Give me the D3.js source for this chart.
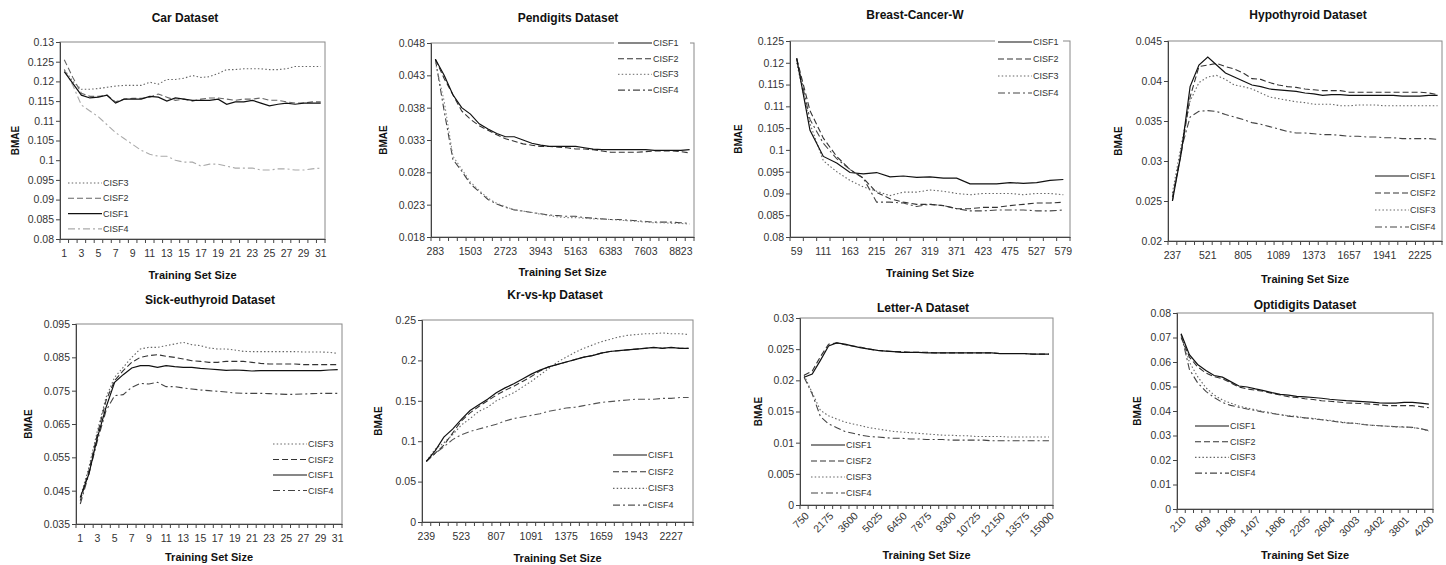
<!DOCTYPE html>
<html>
<head>
<meta charset="utf-8">
<script src="https://cdn.jsdelivr.net/npm/d3@7"></script>
<style>
  body { margin: 0; background: #fff; }
  svg { display: block; font-family: "Liberation Sans", Arial, sans-serif; }
</style>
</head>
<body>
<svg id="chart" width="1446" height="565"></svg>
<script>
// ---- data ----
const carX = d3.range(1, 32);
const carCISF1 = [0.1225,0.1195,0.1165,0.1158,0.116,0.1165,0.1145,0.1155,0.1155,0.1155,0.1162,0.116,0.115,0.1158,0.1155,0.1152,0.1152,0.1152,0.1155,0.1142,0.1148,0.1148,0.1152,0.1145,0.1138,0.1142,0.1145,0.1142,0.1145,0.1145,0.1145];
const carCISF2 = [0.1255,0.121,0.117,0.1162,0.1162,0.1165,0.1148,0.1155,0.1157,0.1157,0.116,0.1168,0.116,0.1152,0.1155,0.115,0.1155,0.1158,0.1158,0.1155,0.1152,0.1155,0.1155,0.1158,0.1152,0.1152,0.1148,0.1145,0.1145,0.1148,0.1148];
const carCISF3 = [0.123,0.120,0.118,0.118,0.1182,0.1185,0.1188,0.119,0.119,0.119,0.1198,0.1193,0.1205,0.1205,0.1208,0.1215,0.121,0.1212,0.122,0.123,0.123,0.1232,0.1232,0.1232,0.123,0.123,0.1232,0.1238,0.1238,0.1238,0.1238];
const carCISF4 = [0.123,0.119,0.114,0.1125,0.111,0.109,0.107,0.1055,0.104,0.1025,0.1015,0.101,0.101,0.100,0.0995,0.0995,0.0985,0.099,0.099,0.0985,0.098,0.098,0.098,0.0975,0.0975,0.0978,0.0978,0.0975,0.0975,0.0978,0.098];

const penX = d3.range(283, 9129, 305);
const penCISF1 = [0.0455,0.043,0.040,0.038,0.037,0.0355,0.0347,0.034,0.0335,0.0335,0.033,0.0325,0.0322,0.032,0.032,0.032,0.032,0.0318,0.0316,0.0315,0.0315,0.0315,0.0315,0.0315,0.0315,0.0314,0.0314,0.0314,0.0314,0.0315];
const penCISF2 = [0.0455,0.0425,0.040,0.0375,0.0362,0.0352,0.0345,0.0338,0.0332,0.0328,0.0324,0.0322,0.032,0.032,0.0319,0.0318,0.0316,0.0316,0.0315,0.0313,0.0311,0.0311,0.0311,0.0311,0.0312,0.0313,0.0313,0.0313,0.0312,0.031];
const penCISF3 = [0.045,0.039,0.0305,0.0285,0.0265,0.0252,0.024,0.0232,0.0227,0.0222,0.022,0.0218,0.0215,0.0213,0.0211,0.021,0.021,0.0209,0.0208,0.0208,0.0207,0.0206,0.0205,0.0204,0.0203,0.0202,0.0202,0.0201,0.0201,0.020];
const penCISF4 = [0.0455,0.0375,0.030,0.0282,0.0262,0.025,0.0238,0.0231,0.0226,0.0222,0.022,0.0218,0.0216,0.0214,0.0213,0.0212,0.0212,0.021,0.0209,0.0208,0.0207,0.0207,0.0206,0.0205,0.0204,0.0203,0.0203,0.0203,0.0202,0.0201];

const bcX = d3.range(59, 580, 26);
const bcCISF1 = [0.121,0.1045,0.0985,0.097,0.0948,0.0945,0.0948,0.0938,0.094,0.0937,0.0938,0.0935,0.0935,0.0922,0.0922,0.0922,0.0925,0.0923,0.0925,0.093,0.0932];
const bcCISF2 = [0.121,0.109,0.1027,0.0985,0.0955,0.0935,0.0902,0.0888,0.088,0.0875,0.0875,0.0872,0.0865,0.0865,0.0868,0.0868,0.0872,0.0875,0.0878,0.0878,0.088];
const bcCISF3 = [0.120,0.106,0.0975,0.095,0.093,0.0915,0.0905,0.0895,0.0903,0.0903,0.0908,0.0905,0.090,0.0897,0.090,0.090,0.090,0.0897,0.090,0.090,0.0897];
const bcCISF4 = [0.121,0.107,0.1015,0.098,0.0955,0.0935,0.088,0.088,0.0878,0.087,0.0875,0.0872,0.0865,0.086,0.086,0.0862,0.0862,0.0862,0.086,0.086,0.0862];

const hypX = d3.range(237, 2368, 71);
const hypCISF1 = [0.025,0.031,0.0393,0.042,0.043,0.042,0.041,0.0405,0.040,0.0395,0.0393,0.039,0.0389,0.0388,0.0387,0.0385,0.0384,0.0382,0.0383,0.0383,0.0382,0.0382,0.0382,0.0382,0.0382,0.0382,0.0381,0.0381,0.0381,0.0382,0.0382];
const hypCISF2 = [0.0255,0.031,0.038,0.0418,0.042,0.0422,0.0418,0.0415,0.041,0.0403,0.0402,0.0398,0.0395,0.0393,0.0392,0.039,0.0389,0.0388,0.0388,0.0388,0.0386,0.0386,0.0386,0.0386,0.0386,0.0386,0.0386,0.0386,0.0386,0.0385,0.0383];
const hypCISF3 = [0.026,0.032,0.0375,0.0398,0.0405,0.0407,0.0402,0.0395,0.0393,0.039,0.0385,0.038,0.0378,0.0376,0.0374,0.0373,0.0371,0.0371,0.0371,0.0369,0.0369,0.037,0.037,0.037,0.0369,0.0369,0.0369,0.0369,0.0369,0.0369,0.0369];
const hypCISF4 = [0.025,0.0315,0.0355,0.0362,0.0363,0.0362,0.0358,0.0355,0.0352,0.0348,0.0346,0.0343,0.034,0.0337,0.0335,0.0335,0.0334,0.0333,0.0333,0.0332,0.0331,0.0331,0.033,0.033,0.0329,0.0329,0.0328,0.0328,0.0328,0.0328,0.0327];

const sickX = d3.range(1, 32);
const sickCISF1 = [0.043,0.050,0.061,0.070,0.0775,0.0798,0.0818,0.0825,0.0825,0.082,0.0825,0.0822,0.082,0.082,0.0817,0.0815,0.0813,0.0811,0.0812,0.0811,0.0809,0.081,0.081,0.081,0.081,0.081,0.081,0.081,0.081,0.0812,0.0813];
const sickCISF2 = [0.042,0.051,0.062,0.072,0.078,0.081,0.0835,0.085,0.0855,0.0858,0.0853,0.085,0.0845,0.084,0.0838,0.0835,0.0835,0.0838,0.0838,0.0838,0.0835,0.0832,0.083,0.083,0.083,0.083,0.0828,0.0828,0.0828,0.0828,0.0828];
const sickCISF3 = [0.043,0.052,0.063,0.073,0.079,0.082,0.085,0.0875,0.088,0.088,0.0885,0.089,0.0895,0.0888,0.0885,0.0878,0.0875,0.0875,0.0872,0.0868,0.0867,0.0867,0.0867,0.0867,0.0867,0.0867,0.0866,0.0866,0.0866,0.0865,0.0862];
const sickCISF4 = [0.041,0.050,0.060,0.069,0.0735,0.0738,0.076,0.0772,0.077,0.0775,0.0762,0.0762,0.0758,0.0755,0.0752,0.075,0.0748,0.0746,0.0743,0.0742,0.0742,0.0742,0.0741,0.074,0.0739,0.0739,0.074,0.0741,0.0742,0.0742,0.0742];

const krX = d3.range(239, 2370, 71);
const krCISF1 = [0.075,0.088,0.105,0.115,0.127,0.138,0.145,0.152,0.160,0.166,0.171,0.177,0.183,0.188,0.192,0.195,0.198,0.201,0.204,0.206,0.209,0.211,0.212,0.213,0.214,0.215,0.216,0.215,0.216,0.215,0.215];
const krCISF2 = [0.075,0.085,0.095,0.110,0.125,0.135,0.143,0.150,0.157,0.163,0.168,0.174,0.180,0.187,0.192,0.195,0.198,0.201,0.204,0.206,0.209,0.211,0.212,0.213,0.214,0.215,0.216,0.215,0.216,0.215,0.215];
const krCISF3 = [0.075,0.090,0.098,0.108,0.120,0.128,0.137,0.142,0.150,0.155,0.160,0.167,0.174,0.182,0.190,0.198,0.204,0.210,0.215,0.219,0.223,0.226,0.229,0.231,0.232,0.233,0.233,0.234,0.233,0.233,0.232];
const krCISF4 = [0.075,0.085,0.093,0.102,0.108,0.112,0.115,0.118,0.121,0.125,0.128,0.130,0.132,0.134,0.137,0.139,0.141,0.142,0.144,0.146,0.148,0.149,0.150,0.151,0.152,0.152,0.152,0.153,0.153,0.154,0.154];

const letX = d3.range(750, 15001, 475);
const letCISF1 = [0.0205,0.021,0.0232,0.0255,0.026,0.0258,0.0255,0.0252,0.025,0.0248,0.0247,0.0246,0.0245,0.0245,0.0245,0.0244,0.0244,0.0244,0.0244,0.0244,0.0244,0.0244,0.0244,0.0244,0.0243,0.0243,0.0243,0.0243,0.0242,0.0242,0.0242];
const letCISF2 = [0.0208,0.0215,0.0238,0.0258,0.026,0.0257,0.0255,0.0253,0.025,0.0248,0.0247,0.0246,0.0246,0.0245,0.0245,0.0245,0.0244,0.0244,0.0244,0.0244,0.0244,0.0244,0.0244,0.0244,0.0243,0.0243,0.0243,0.0243,0.0242,0.0242,0.0242];
const letCISF3 = [0.0208,0.018,0.0152,0.0143,0.0138,0.0133,0.013,0.0127,0.0124,0.0122,0.012,0.0118,0.0117,0.0116,0.0115,0.0114,0.0113,0.0112,0.0112,0.0111,0.0111,0.011,0.011,0.011,0.011,0.0109,0.0109,0.0109,0.0109,0.0109,0.0109];
const letCISF4 = [0.0205,0.0178,0.0142,0.013,0.0124,0.0118,0.0115,0.0112,0.011,0.0109,0.0108,0.0107,0.0107,0.0106,0.0106,0.0105,0.0105,0.0105,0.0104,0.0104,0.0104,0.0104,0.0104,0.0103,0.0103,0.0103,0.0103,0.0103,0.0103,0.0103,0.0103];

const optX = d3.range(210, 4201, 133);
const optCISF1 = [0.0715,0.063,0.059,0.0565,0.0545,0.0538,0.052,0.0502,0.0498,0.049,0.0483,0.0475,0.0468,0.0465,0.046,0.0458,0.0455,0.0452,0.0448,0.0445,0.0442,0.044,0.0438,0.0436,0.0433,0.0432,0.0432,0.0435,0.0435,0.0432,0.0428];
const optCISF2 = [0.070,0.062,0.058,0.0555,0.054,0.0532,0.0515,0.0498,0.049,0.0485,0.048,0.0472,0.0465,0.0458,0.0455,0.045,0.0447,0.0442,0.044,0.0437,0.0433,0.0432,0.043,0.0428,0.0425,0.0422,0.0422,0.0422,0.0422,0.0418,0.0413];
const optCISF3 = [0.071,0.060,0.054,0.0495,0.0465,0.0445,0.0432,0.042,0.0412,0.0405,0.0398,0.0392,0.0385,0.0381,0.0378,0.0372,0.037,0.0365,0.0362,0.0357,0.0352,0.035,0.0346,0.0342,0.034,0.0338,0.0335,0.0334,0.0332,0.0328,0.0318];
const optCISF4 = [0.0715,0.057,0.0515,0.048,0.0455,0.0435,0.0423,0.0415,0.0408,0.0402,0.0395,0.039,0.0385,0.0379,0.0375,0.0372,0.0368,0.0364,0.036,0.0355,0.0351,0.035,0.0345,0.0342,0.034,0.0338,0.0336,0.0335,0.0333,0.0328,0.032];

// ---- layout ----
const svg = d3.select("#chart");

const baseStyle = {
    CISF1: { color: "#111", dash: null, width: 1.2 },
    CISF2: { color: "#333", dash: "6,3", width: 1.1 },
    CISF3: { color: "#666", dash: "1.5,2.2", width: 1.1 },
    CISF4: { color: "#444", dash: "7,3,2,3", width: 1.1 }
};

const panels = [
    { title: "Car Dataset", cats: carX, data: [carCISF1, carCISF2, carCISF3, carCISF4],
      y: [0.08, 0.13], step: 0.005, every: 2, box: [60, 42, 325, 239],
      titleXY: [185, 18], xTitleY: 275, yTitleX: 15,
      legend: { x: 68, y: 183, dy: 15.3, order: [3, 2, 1, 4] },
      colors: { CISF2: "#666", CISF4: "#aaa" } },
    { title: "Pendigits Dataset", cats: penX, data: [penCISF1, penCISF2, penCISF3, penCISF4],
      y: [0.018, 0.048], step: 0.005, every: 4, box: [431, 43, 694, 237],
      titleXY: [568, 18], xTitleY: 272, yTitleX: 383,
      legend: { x: 618, y: 43, dy: 15.7, order: [1, 2, 3, 4], bg: [614, 36, 690, 98] },
      colors: { CISF3: "#888" } },
    { title: "Breast-Cancer-W", cats: bcX, data: [bcCISF1, bcCISF2, bcCISF3, bcCISF4],
      y: [0.08, 0.125], step: 0.005, every: 2, box: [790, 41, 1070, 237],
      titleXY: [915, 15], xTitleY: 273, yTitleX: 738,
      legend: { x: 998, y: 42, dy: 17, order: [1, 2, 3, 4], bg: [995, 35, 1063, 100] },
      colors: {} },
    { title: "Hypothyroid Dataset", cats: hypX, data: [hypCISF1, hypCISF2, hypCISF3, hypCISF4],
      y: [0.02, 0.045], step: 0.005, every: 4, box: [1168, 41, 1442, 241],
      titleXY: [1308, 15], xTitleY: 279, yTitleX: 1118,
      legend: { x: 1375, y: 176, dy: 17, order: [1, 2, 3, 4] },
      colors: {} },
    { title: "Sick-euthyroid Dataset", cats: sickX, data: [sickCISF1, sickCISF2, sickCISF3, sickCISF4],
      y: [0.035, 0.095], step: 0.01, every: 2, box: [76, 324, 342, 524],
      titleXY: [210, 300], xTitleY: 557, yTitleX: 28,
      legend: { x: 273, y: 444, dy: 15.5, order: [3, 2, 1, 4] },
      colors: {} },
    { title: "Kr-vs-kp Dataset", cats: krX, data: [krCISF1, krCISF2, krCISF3, krCISF4],
      y: [0, 0.25], step: 0.05, every: 4, box: [422, 320, 693, 522],
      titleXY: [555, 295], xTitleY: 558, yTitleX: 378,
      legend: { x: 613, y: 455, dy: 16.7, order: [1, 2, 3, 4] },
      colors: { CISF4: "#555" } },
    { title: "Letter-A Dataset", cats: letX, data: [letCISF1, letCISF2, letCISF3, letCISF4],
      y: [0, 0.03], step: 0.005, every: 3, box: [800, 318, 1053, 505], rotate: true,
      titleXY: [923, 308], xTitleY: 555, yTitleX: 758,
      legend: { x: 811, y: 445, dy: 16, order: [1, 2, 3, 4] },
      colors: {} },
    { title: "Optidigits Dataset", cats: optX, data: [optCISF1, optCISF2, optCISF3, optCISF4],
      y: [0, 0.08], step: 0.01, every: 3, box: [1177, 313, 1433, 509], rotate: true,
      titleXY: [1305, 305], xTitleY: 555, yTitleX: 1137,
      legend: { x: 1195, y: 426, dy: 15.7, order: [1, 2, 3, 4] },
      colors: {} }
];

const names = ["CISF1", "CISF2", "CISF3", "CISF4"];
const fmt = v => String(+v.toFixed(4));

panels.forEach(p => {
    let [x0, y0, x1, y1] = p.box;
    let g = svg.append("g");

    let x = d3.scaleBand().domain(p.cats).range([x0, x1]);
    let y = d3.scaleLinear().domain(p.y).range([y1, y0]);
    let nTicks = Math.round((p.y[1] - p.y[0]) / p.step);
    let yTicks = d3.range(nTicks + 1).map(i => +(p.y[0] + i * p.step).toFixed(4));

    // plot area border
    g.append("rect")
        .attr("x", x0).attr("y", y0)
        .attr("width", x1 - x0).attr("height", y1 - y0)
        .attr("fill", "none").attr("stroke", "#888").attr("stroke-width", 1);

    // y axis
    let ya = g.append("g")
        .attr("transform", `translate(${x0},0)`)
        .call(d3.axisLeft(y).tickValues(yTicks).tickFormat(fmt).tickSize(4).tickPadding(2));
    ya.select(".domain").attr("stroke", "#444");
    ya.selectAll(".tick line").attr("stroke", "#444");
    ya.selectAll("text").attr("font-size", 10.5).attr("fill", "#333");

    // x axis: labels at category centres, tick marks at band edges
    let labelCats = p.cats.filter((c, i) => i % p.every === 0);
    let xa = g.append("g")
        .attr("transform", `translate(0,${y1})`)
        .call(d3.axisBottom(x).tickValues(labelCats).tickSize(0).tickPadding(11));
    xa.select(".domain").attr("stroke", "#444");
    xa.selectAll("text").attr("font-size", 10.5).attr("fill", "#333");
    if (p.rotate) {
        // 45 degree labels ending just under the category
        xa.selectAll("text")
            .attr("x", 0).attr("y", 0)
            .attr("text-anchor", "end")
            .attr("dy", "0.35em")
            .attr("transform", "translate(3,9) rotate(-45)");
    }
    g.append("g").selectAll("line")
        .data(d3.range(p.cats.length + 1))
        .join("line")
        .attr("x1", i => x0 + i * x.step()).attr("x2", i => x0 + i * x.step())
        .attr("y1", y1).attr("y2", y1 + 4)
        .attr("stroke", "#444");

    // titles
    g.append("text")
        .attr("x", p.titleXY[0]).attr("y", p.titleXY[1])
        .attr("text-anchor", "middle").attr("dominant-baseline", "central")
        .attr("font-size", 12).attr("font-weight", "bold").attr("fill", "#111")
        .text(p.title);
    g.append("text")
        .attr("x", (x0 + x1) / 2).attr("y", p.xTitleY)
        .attr("text-anchor", "middle").attr("dominant-baseline", "central")
        .attr("font-size", 11).attr("font-weight", "bold").attr("fill", "#111")
        .text("Training Set Size");
    g.append("text")
        .attr("transform", `translate(${p.yTitleX},${(y0 + y1) / 2}) rotate(-90)`)
        .attr("text-anchor", "middle").attr("dominant-baseline", "central")
        .attr("font-size", 10).attr("font-weight", "bold").attr("fill", "#111")
        .text("BMAE");

    // series
    let style = name => Object.assign({}, baseStyle[name], p.colors[name] ? { color: p.colors[name] } : {});
    let line = d3.line()
        .x((d, i) => x(p.cats[i]) + x.bandwidth() / 2)
        .y(d => y(d));
    // draw CISF4, CISF3, CISF2 then CISF1 on top
    [3, 2, 1, 0].forEach(k => {
        let s = style(names[k]);
        g.append("path")
            .datum(p.data[k])
            .attr("d", line)
            .attr("fill", "none")
            .attr("stroke", s.color)
            .attr("stroke-width", s.width)
            .attr("stroke-dasharray", s.dash);
    });

    // legend
    let lg = p.legend;
    if (lg.bg) {
        g.append("rect")
            .attr("x", lg.bg[0]).attr("y", lg.bg[1])
            .attr("width", lg.bg[2] - lg.bg[0]).attr("height", lg.bg[3] - lg.bg[1])
            .attr("fill", "#fff");
    }
    lg.order.forEach((n, j) => {
        let s = style("CISF" + n);
        let ly = lg.y + j * lg.dy;
        g.append("line")
            .attr("x1", lg.x).attr("x2", lg.x + 34)
            .attr("y1", ly).attr("y2", ly)
            .attr("stroke", s.color).attr("stroke-width", s.width)
            .attr("stroke-dasharray", s.dash);
        g.append("text")
            .attr("x", lg.x + 35).attr("y", ly)
            .attr("dominant-baseline", "central")
            .attr("font-size", 9).attr("fill", "#333")
            .text("CISF" + n);
    });
});
</script>
</body>
</html>
